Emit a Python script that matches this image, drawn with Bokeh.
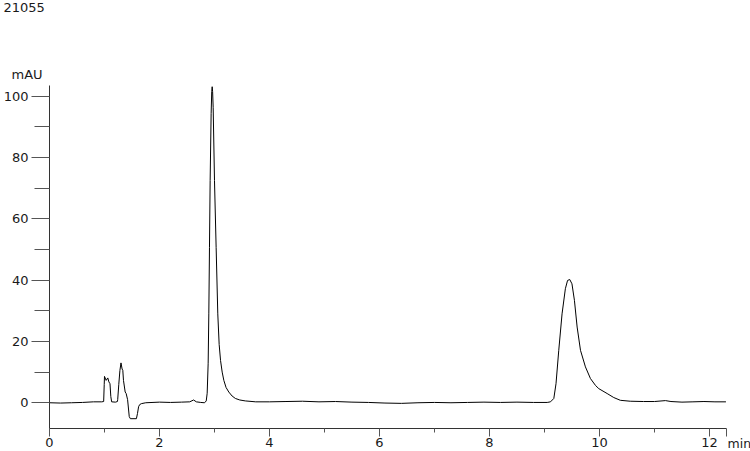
from bokeh.plotting import figure
from bokeh.models import FixedTicker, Range1d
from bokeh.layouts import column, row
from bokeh.core.properties import value
from bokeh.embed import file_html
from bokeh.resources import INLINE

# Chromatogram trace (time in min, absorbance in mAU)
time_min = [
    0.00, 0.20, 0.40, 0.60, 0.80, 0.95, 0.985, 0.995, 1.000, 1.030, 1.060, 1.080,
    1.100, 1.115, 1.130, 1.200, 1.235, 1.240, 1.260, 1.280, 1.300, 1.320, 1.333,
    1.345, 1.376, 1.394, 1.420, 1.450, 1.470, 1.580, 1.600, 1.620, 1.640, 1.670,
    1.750, 2.000, 2.200, 2.400, 2.550, 2.620, 2.670, 2.750, 2.820, 2.850, 2.867,
    2.885, 2.897, 2.909, 2.921, 2.939, 2.950, 2.958, 2.966, 2.976, 3.000, 3.030,
    3.060, 3.085, 3.110, 3.140, 3.170, 3.210, 3.260, 3.320, 3.380, 3.460, 3.560,
    3.750, 4.000, 4.300, 4.600, 4.900, 5.200, 5.500, 5.800, 6.100, 6.400, 6.700,
    7.000, 7.300, 7.600, 7.900, 8.200, 8.500, 8.800, 9.050, 9.110, 9.170, 9.210,
    9.260, 9.320, 9.380, 9.420, 9.460, 9.500, 9.545, 9.594, 9.655, 9.745, 9.836,
    9.930, 9.988, 10.140, 10.260, 10.380, 10.560, 10.800, 11.000, 11.200, 11.300,
    11.500, 11.700, 11.900, 12.100, 12.300,
]
absorbance_mau = [
    0.0, -0.1, 0.0, 0.1, 0.3, 0.3, 0.4, 6.0, 8.6, 7.3, 8.1, 6.8,
    6.2, 2.0, 0.3, 0.2, 0.4, 1.0, 6.0, 10.5, 13.0, 11.0, 10.6,
    7.3, 3.5, 3.0, 1.0, -4.5, -5.2, -5.2, -3.5, -1.3, -0.6, -0.3,
    0.0, 0.2, 0.1, 0.2, 0.3, 0.9, 0.3, 0.1, 0.0, 0.6, 3.1,
    12.9, 29.0, 50.7, 72.5, 94.3, 101.5, 103.1, 101.5, 96.4, 72.5, 50.7,
    29.0, 19.0, 13.8, 10.0, 7.3, 5.0, 3.5, 2.2, 1.4, 0.9, 0.6,
    0.3, 0.3, 0.4, 0.5, 0.3, 0.4, 0.2, 0.1, -0.1, -0.2, 0.0,
    0.1, 0.0, 0.1, 0.2, 0.1, 0.2, 0.1, 0.1, 0.3, 1.4, 6.2,
    17.1, 29.0, 37.2, 39.9, 40.2, 38.8, 33.4, 24.7, 17.1, 11.7, 7.9,
    5.6, 4.6, 3.0, 1.7, 0.8, 0.5, 0.4, 0.4, 0.7, 0.4,
    0.2, 0.3, 0.4, 0.3, 0.3,
]

x_major_ticks = [0, 2, 4, 6, 8, 10, 12]
x_minor_ticks = [1, 3, 5, 7, 9, 11]
y_major_ticks = [0, 20, 40, 60, 80, 100]
y_minor_ticks = [10, 30, 50, 70, 90]

sample_name = "21055"
y_unit = "mAU"
x_unit = "min"

X_END = 12.31
FONT = "DejaVu Sans"
TEXT_COLOR = "#1a1a1a"


def blank_strip(w, h):
    f = figure(width=w, height=h, frame_width=w, frame_height=h,
               output_backend="svg", toolbar_location=None,
               x_range=Range1d(0, w), y_range=Range1d(0, h),
               x_axis_location=None, y_axis_location=None, min_border=0)
    f.xgrid.visible = False
    f.ygrid.visible = False
    f.outline_line_color = None
    return f


# ---- header strip (sample name and y unit); y measured from the strip bottom ----
header = blank_strip(750, 85)
header.text(x=[3], y=[78], text=[sample_name], text_font=value(FONT),
            text_font_size=value("13px"), text_color=TEXT_COLOR,
            text_align="left", text_baseline="middle")
header.text(x=[11], y=[11], text=[y_unit], text_font=value(FONT),
            text_font_size=value("13px"), text_color=TEXT_COLOR,
            text_align="left", text_baseline="middle")

# ---- main chart ----
p = figure(
    width=727, height=366,
    output_backend="svg", toolbar_location=None,
    x_range=Range1d(0, X_END), y_range=Range1d(-8.4, 103.5),
    min_border_left=49, min_border_right=1,
    min_border_top=0, min_border_bottom=23,
)
p.xgrid.visible = False
p.ygrid.visible = False
p.outline_line_color = None

p.line(time_min, absorbance_mau, line_color="black", line_width=1)

end_tick = X_END - 0.0005
p.xaxis.ticker = FixedTicker(ticks=x_major_ticks + [end_tick], minor_ticks=x_minor_ticks)
p.xaxis.major_label_overrides = {end_tick: ""}
p.xaxis.major_tick_out = 8
p.xaxis.major_tick_in = 0
p.xaxis.minor_tick_out = 4
p.xaxis.minor_tick_in = 0
p.xaxis.major_label_standoff = 1

p.yaxis.ticker = FixedTicker(ticks=y_major_ticks, minor_ticks=y_minor_ticks)
p.yaxis.major_tick_out = 18
p.yaxis.major_tick_in = 0
p.yaxis.minor_tick_out = 15
p.yaxis.minor_tick_in = 0
p.yaxis.major_label_standoff = 3

for ax in (p.xaxis, p.yaxis):
    ax.axis_line_color = "#333333"
    ax.major_tick_line_color = "#555555"
    ax.minor_tick_line_color = "#555555"
    ax.major_label_text_font = FONT
    ax.major_label_text_font_size = "13px"
    ax.major_label_text_color = TEXT_COLOR

# ---- right strip (x unit); y measured from the strip bottom ----
side = blank_strip(23, 366)
side.text(x=[0], y=[8], text=[x_unit], text_font=value(FONT),
          text_font_size=value("12.5px"), text_color=TEXT_COLOR,
          text_align="left", text_baseline="middle")

layout = column(header, row(p, side, spacing=0), spacing=0)

open("out.html", "w").write(file_html(layout, INLINE))
